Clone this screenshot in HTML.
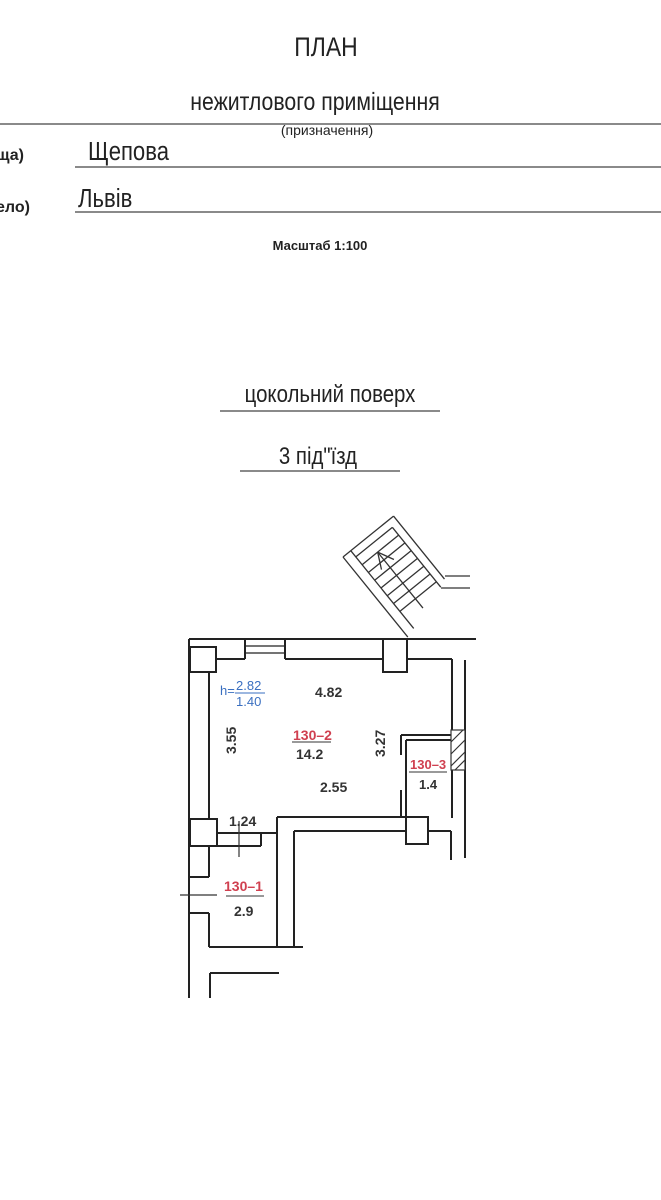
<!DOCTYPE html>
<html><head><meta charset="utf-8"><style>
html,body{margin:0;padding:0;background:#fff;}
svg{display:block;}
text{font-family:"Liberation Sans",sans-serif;}
</style></head><body>
<svg width="661" height="1200" viewBox="0 0 661 1200" xmlns="http://www.w3.org/2000/svg">
<rect width="661" height="1200" fill="#fff"/>
<g fill="#222">
<text x="326" y="56" font-size="27" text-anchor="middle" transform="translate(326 0) scale(0.85 1) translate(-326 0)">ПЛАН</text>
<text x="315" y="110" font-size="25" text-anchor="middle" transform="translate(315 0) scale(0.85 1) translate(-315 0)">нежитлового приміщення</text>
<text x="327" y="135" font-size="14" text-anchor="middle">(призначення)</text>
<text x="-4" y="160" font-size="16" font-weight="bold">ща)</text>
<text x="88" y="160" font-size="26" transform="translate(88 0) scale(0.85 1) translate(-88 0)">Щепова</text>
<text x="-4" y="212" font-size="16" font-weight="bold">ело)</text>
<text x="78" y="207" font-size="26" transform="translate(78 0) scale(0.85 1) translate(-78 0)">Львів</text>
<text x="320" y="250" font-size="13" font-weight="bold" text-anchor="middle">Масштаб 1:100</text>
<text x="330" y="402" font-size="24" text-anchor="middle" transform="translate(330 0) scale(0.85 1) translate(-330 0)">цокольний поверх</text>
<text x="318" y="464" font-size="24" text-anchor="middle" transform="translate(318 0) scale(0.85 1) translate(-318 0)">3 під"їзд</text>
</g>
<g stroke="#444" stroke-width="1.3" fill="none">
<line x1="0" y1="124" x2="661" y2="124"/>
<line x1="75" y1="167" x2="661" y2="167"/>
<line x1="75" y1="212" x2="661" y2="212"/>
<line x1="220" y1="411" x2="440" y2="411"/>
<line x1="240" y1="471" x2="400" y2="471"/>
</g>
<!-- stairs -->
<g stroke="#333" stroke-width="1.3" fill="none" transform="translate(343 557) rotate(51)">
<line x1="0" y1="0" x2="103" y2="0"/>
<line x1="0" y1="-10" x2="100" y2="-10"/>
<line x1="0" y1="0" x2="0" y2="-65"/>
<line x1="8" y1="-10" x2="8" y2="-57"/>
<line x1="0" y1="-65" x2="81" y2="-65"/>
<line x1="8" y1="-57" x2="85" y2="-57"/>
<line x1="18" y1="-10" x2="18" y2="-57"/>
<line x1="28" y1="-10" x2="28" y2="-57"/>
<line x1="38" y1="-10" x2="38" y2="-57"/>
<line x1="48" y1="-10" x2="48" y2="-57"/>
<line x1="58" y1="-10" x2="58" y2="-57"/>
<line x1="68" y1="-10" x2="68" y2="-57"/>
<line x1="78" y1="-10" x2="78" y2="-57"/>
<line x1="18" y1="-30" x2="90" y2="-30"/>
<path d="M18 -30 L34 -22 M18 -30 L34 -38"/>
</g>
<g stroke="#333" stroke-width="1.3" fill="none">
<line x1="445" y1="576" x2="470" y2="576"/>
<line x1="441" y1="588" x2="470" y2="588"/>
</g>
<!-- plan -->
<g stroke="#222" stroke-width="2" fill="none">
<line x1="189" y1="639" x2="476" y2="639"/>
<line x1="189" y1="639" x2="189" y2="998"/>
<line x1="216" y1="659" x2="245" y2="659"/>
<line x1="285" y1="659" x2="383" y2="659"/>
<line x1="407" y1="659" x2="452" y2="659"/>
<line x1="245" y1="639" x2="245" y2="659"/>
<line x1="285" y1="639" x2="285" y2="659"/>
<line x1="245" y1="646" x2="285" y2="646" stroke-width="1.2"/>
<line x1="245" y1="653" x2="285" y2="653" stroke-width="1.2"/>
<line x1="209" y1="672" x2="209" y2="819"/>
<line x1="452" y1="659" x2="452" y2="818"/>
<line x1="465" y1="660" x2="465" y2="858"/>
<rect x="190" y="647" width="26" height="25"/>
<rect x="383" y="639" width="24" height="33"/>
<rect x="190" y="819" width="27" height="27"/>
<rect x="406" y="817" width="22" height="27"/>
<line x1="209" y1="846" x2="209" y2="877"/>
<line x1="189" y1="877" x2="209" y2="877"/>
<line x1="189" y1="913" x2="209" y2="913"/>
<line x1="209" y1="913" x2="209" y2="947"/>
<line x1="209" y1="947" x2="303" y2="947"/>
<line x1="217" y1="833" x2="277" y2="833"/>
<line x1="217" y1="846" x2="261" y2="846"/>
<line x1="261" y1="833" x2="261" y2="846"/>
<line x1="277" y1="817" x2="406" y2="817"/>
<line x1="277" y1="817" x2="277" y2="947"/>
<line x1="294" y1="831" x2="406" y2="831"/>
<line x1="294" y1="831" x2="294" y2="947"/>
<line x1="428" y1="831" x2="451" y2="831"/>
<line x1="451" y1="831" x2="451" y2="860"/>
<line x1="401" y1="735" x2="452" y2="735"/>
<line x1="406" y1="740" x2="452" y2="740"/>
<line x1="401" y1="735" x2="401" y2="755"/>
<line x1="401" y1="790" x2="401" y2="817"/>
<line x1="406" y1="740" x2="406" y2="817"/>
<line x1="210" y1="973" x2="279" y2="973"/>
<line x1="210" y1="973" x2="210" y2="998"/>
</g>
<g stroke="#333" stroke-width="1.2">
<rect x="451" y="730" width="14" height="40" fill="#fff"/>
<path d="M451 742 L463 730 M451 754 L465 740 M451 766 L465 752 M455 770 L465 760" />
<line x1="239" y1="821" x2="239" y2="857"/>
<line x1="180" y1="895" x2="217" y2="895"/>
</g>
<g font-family="Liberation Sans" font-weight="bold">
<text x="220" y="695" font-size="13" fill="#3a6fc0" font-weight="normal">h=</text>
<text x="236" y="690" font-size="13" fill="#3a6fc0" font-weight="normal">2.82</text>
<line x1="235" y1="693" x2="265" y2="693" stroke="#3a6fc0"/>
<text x="236" y="706" font-size="13" fill="#3a6fc0" font-weight="normal">1.40</text>
<text x="315" y="697" font-size="14" fill="#333">4.82</text>
<text x="293" y="740" font-size="14" fill="#d04050">130–2</text>
<line x1="292" y1="742" x2="331" y2="742" stroke="#333"/>
<text x="296" y="759" font-size="14" fill="#333">14.2</text>
<text x="320" y="792" font-size="14" fill="#333">2.55</text>
<text x="236" y="754" font-size="14" fill="#333" transform="rotate(-90 236 754)">3.55</text>
<text x="385" y="757" font-size="14" fill="#333" transform="rotate(-90 385 757)">3.27</text>
<text x="410" y="769" font-size="13" fill="#d04050">130–3</text>
<line x1="409" y1="772" x2="447" y2="772" stroke="#333"/>
<text x="419" y="789" font-size="13" fill="#333">1.4</text>
<text x="229" y="826" font-size="14" fill="#333">1.24</text>
<text x="224" y="891" font-size="14" fill="#d04050">130–1</text>
<line x1="226" y1="896" x2="264" y2="896" stroke="#333"/>
<text x="234" y="916" font-size="14" fill="#333">2.9</text>
</g>
</svg>
</body></html>
